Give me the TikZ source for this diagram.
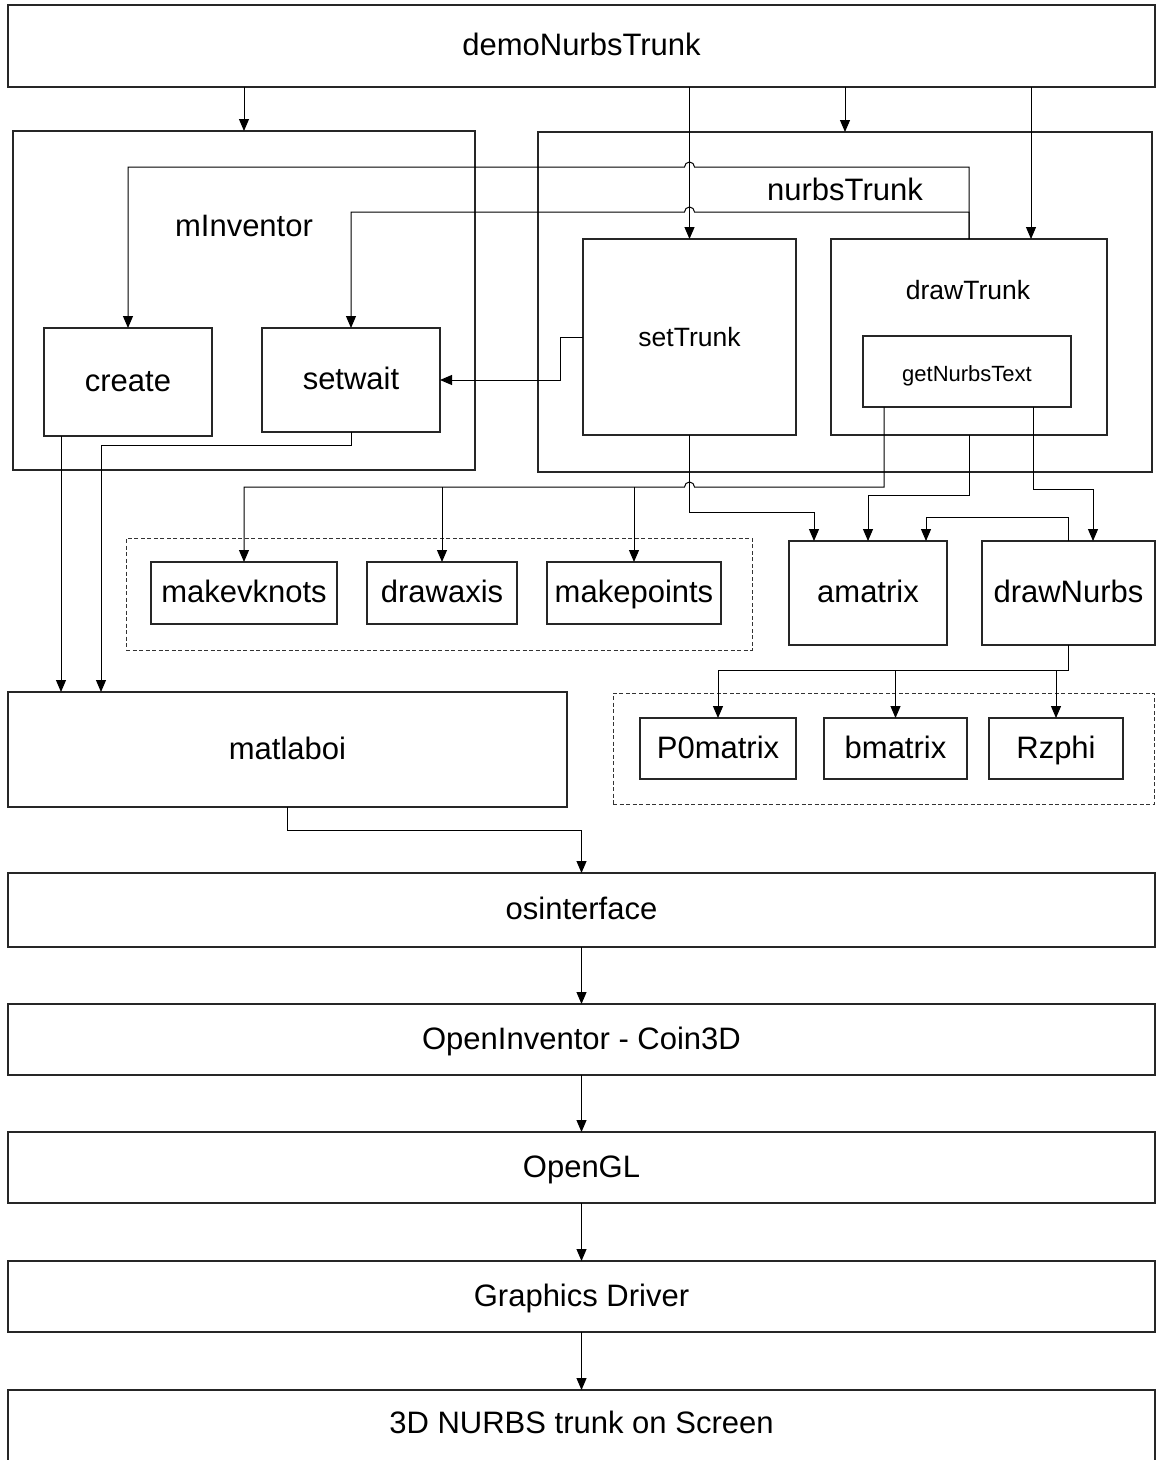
\documentclass[tikz,border=0pt]{standalone}
\usepackage{fontspec}
\setmainfont{Liberation Sans}
\usetikzlibrary{arrows.meta,calc}
\begin{document}
\begin{tikzpicture}[x=1pt,y=-1pt,
  txt/.style={font=\fontsize{31}{36}\selectfont,text height=19pt,text depth=0pt,inner sep=0pt},
  box/.style={txt,draw=black!85,line width=1.1pt,outer sep=0pt},
  grp/.style={draw=black!80,line width=0.8pt,dash pattern=on 4pt off 2.5pt,inner sep=0pt,outer sep=0pt},
  mid/.style={font=\fontsize{26.5}{30}\selectfont},
  small/.style={font=\fontsize{22}{26}\selectfont},
  arr/.style={line width=1pt,-{Triangle[width=10pt,length=12pt]}},
  wire/.style={line width=1pt}
]
\useasboundingbox (0,0) rectangle (1159,1460);

% top-level caller
\node[box,minimum width=1147pt,minimum height=82pt] (demo) at (581.5,46) {demoNurbsTrunk};

% container modules
\node[box,minimum width=462pt,minimum height=339pt] (minv) at (244,300.5) {};
\node[txt] (minvlabel) at (244,227) {mInventor};
\node[box,minimum width=614pt,minimum height=340pt] (nurbs) at (845,302) {};
\node[txt] (nurbslabel) at (845,191) {nurbsTrunk};

% functions inside the containers
\node[box,minimum width=168pt,minimum height=108pt] (create) at (128,382) {create};
\node[box,minimum width=178pt,minimum height=104pt] (setwait) at (351,380) {setwait};
\node[box,mid,minimum width=213pt,minimum height=196pt] (settrunk) at (689.5,337) {setTrunk};
\node[box,minimum width=276pt,minimum height=196pt] (drawtrunk) at (969,337) {};
\node[txt,mid] (drawtrunklabel) at (968,290) {drawTrunk};
\node[box,small,minimum width=208pt,minimum height=71pt] (getnurbs) at (967,371.5) {getNurbsText};

% helper group
\node[grp,minimum width=626pt,minimum height=112pt] (group1) at (439,594) {};
\node[box,minimum width=186pt,minimum height=62pt] (makevknots) at (244,593) {makevknots};
\node[box,minimum width=150pt,minimum height=62pt] (drawaxis) at (442,593) {drawaxis};
\node[box,minimum width=174pt,minimum height=62pt] (makepoints) at (634,593) {makepoints};

\node[box,minimum width=158pt,minimum height=104pt] (amatrix) at (868,593) {amatrix};
\node[box,minimum width=173pt,minimum height=104pt] (drawnurbs) at (1068.5,593) {drawNurbs};

% NURBS helper group
\node[grp,minimum width=541pt,minimum height=111pt] (group2) at (883.5,748.5) {};
\node[box,minimum width=156pt,minimum height=61pt] (p0) at (718,748.5) {P0matrix};
\node[box,minimum width=143pt,minimum height=61pt] (bmatrix) at (895.5,748.5) {bmatrix};
\node[box,minimum width=134pt,minimum height=61pt] (rzphi) at (1056,748.5) {Rzphi};

% software stack
\node[box,minimum width=559pt,minimum height=115pt] (matlaboi) at (287.5,749.5) {matlaboi};
\node[box,minimum width=1147pt,minimum height=74pt] (osinterface) at (581.5,910) {osinterface};
\node[box,minimum width=1147pt,minimum height=71pt] (openinv) at (581.5,1039.5) {OpenInventor - Coin3D};
\node[box,minimum width=1147pt,minimum height=71pt] (opengl) at (581.5,1167.5) {OpenGL};
\node[box,minimum width=1147pt,minimum height=71pt] (graphics) at (581.5,1296.5) {Graphics Driver};
\node[box,minimum width=1147pt,minimum height=90pt] (screen) at (581.5,1435) {};
\node[txt] (screenlabel) at (581.5,1424) {3D NURBS trunk on Screen};

% rows and columns used by the bus lines
\coordinate (rowA) at (0,167);
\coordinate (rowB) at (0,212);
\coordinate (rowC) at (0,487);
\coordinate (rowD) at (0,512);
\coordinate (rowE) at (0,495);
\coordinate (rowF) at (0,489);
\coordinate (rowG) at (0,517);
\coordinate (rowH) at (0,670);
\coordinate (rowI) at (0,830);
\coordinate (rowJ) at (0,445);
\coordinate (jog) at (560,0);
\coordinate (swcol) at (101,0);
\coordinate (dtin) at ([xshift=62pt]drawtrunk.north);
\coordinate (crout) at ([xshift=-67pt]create.south);
\coordinate (gnl) at ([xshift=-83pt]getnurbs.south);
\coordinate (gnr) at ([xshift=66pt]getnurbs.south);
\coordinate (amA) at ([xshift=-54pt]amatrix.north);
\coordinate (amC) at ([xshift=58pt]amatrix.north);
\coordinate (dnin) at ([xshift=24.5pt]drawnurbs.north);

% calls from demoNurbsTrunk
\draw[arr] (demo.south -| minv.north) -- (minv.north);
\draw[arr] (demo.south -| settrunk.north) -- (settrunk.north);
\draw[arr] (demo.south -| nurbs.north) -- (nurbs.north);
\draw[arr] (demo.south -| dtin) -- (dtin);

% drawTrunk -> create / setwait (hopping over the setTrunk call)
\draw[arr] (drawtrunk.north) -- (drawtrunk.north |- rowA)
  -- ($(settrunk.north |- rowA)+(5,0)$) arc[start angle=0,end angle=-180,radius=5]
  -- (create.north |- rowA) -- (create.north);
\draw[arr] (drawtrunk.north) -- (drawtrunk.north |- rowB)
  -- ($(settrunk.north |- rowB)+(5,0)$) arc[start angle=0,end angle=-180,radius=5]
  -- (setwait.north |- rowB) -- (setwait.north);

% setTrunk -> setwait
\draw[arr] (settrunk.west) -| (jog |- setwait.east) -- (setwait.east);

% mInventor -> matlaboi
\draw[arr] (crout) -- (crout |- matlaboi.north);
\draw[arr] (setwait.south) |- (swcol |- rowJ) -- (swcol |- matlaboi.north);

% getNurbsText -> helper group
\draw[arr] (gnl) -- (gnl |- rowC)
  -- ($(settrunk.south |- rowC)+(5,0)$) arc[start angle=0,end angle=-180,radius=5]
  -- (makevknots.north |- rowC) -- (makevknots.north);
\draw[arr] (drawaxis.north |- rowC) -- (drawaxis.north);
\draw[arr] (makepoints.north |- rowC) -- (makepoints.north);

% calls into amatrix and drawNurbs
\draw[arr] (settrunk.south) -- (settrunk.south |- rowD) -- (amA |- rowD) -- (amA);
\draw[arr] (drawtrunk.south) |- (amatrix.north |- rowE) -- (amatrix.north);
\draw[arr] (gnr) |- (dnin |- rowF) -- (dnin);
\draw[arr] (drawnurbs.north) |- (amC |- rowG) -- (amC);

% drawNurbs -> NURBS helpers
\draw[arr] (drawnurbs.south) |- (p0.north |- rowH) -- (p0.north);
\draw[arr] (bmatrix.north |- rowH) -- (bmatrix.north);
\draw[arr] (rzphi.north |- rowH) -- (rzphi.north);

% down the software stack
\draw[arr] (matlaboi.south) |- (osinterface.north |- rowI) -- (osinterface.north);
\draw[arr] (osinterface.south) -- (openinv.north);
\draw[arr] (openinv.south) -- (opengl.north);
\draw[arr] (opengl.south) -- (graphics.north);
\draw[arr] (graphics.south) -- (screen.north);
\end{tikzpicture}
\end{document}
